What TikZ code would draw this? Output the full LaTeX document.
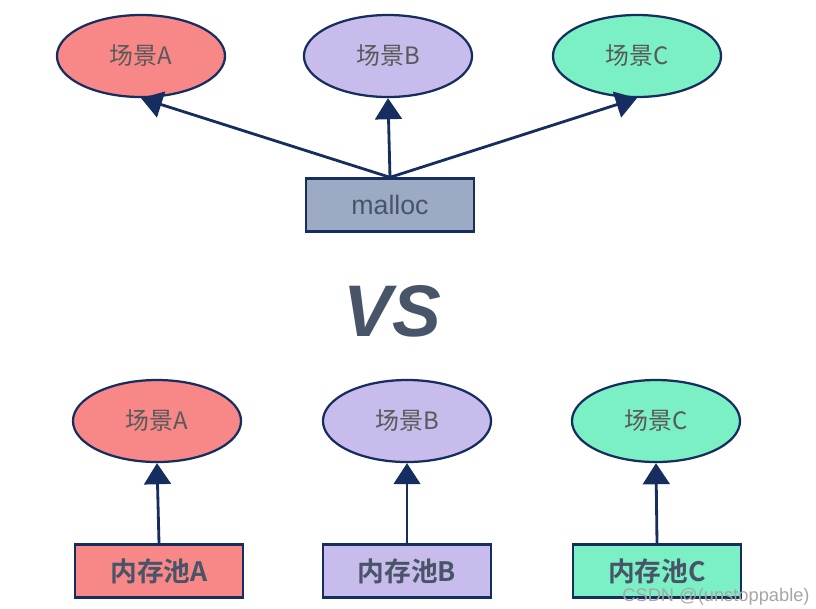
\documentclass[tikz,border=0pt]{standalone}
\usepackage{fontspec}
\setmainfont{Liberation Sans}
\newfontfamily\cjk{Noto Sans CJK SC}[BoldFont={Noto Sans CJK SC Bold}]
\usepackage{tikz}
\usetikzlibrary{arrows.meta,shapes.geometric}
\usepackage{xcolor}
\definecolor{navy}{RGB}{22,45,95}
\definecolor{pinkA}{RGB}{248,135,135}
\definecolor{lilacB}{RGB}{200,188,236}
\definecolor{mintC}{RGB}{122,240,196}
\definecolor{slatebox}{RGB}{156,170,196}
\definecolor{slatetext}{RGB}{72,84,104}

\begin{document}
\begin{tikzpicture}[x=0.025cm, y=-0.025cm,
    scene/.style={draw=navy, line width=1.6pt, ellipse, minimum width=4.2cm, minimum height=2.05cm, font=\cjk\fontsize{17}{17}\selectfont, text=black!65},
    pool/.style={draw=navy, line width=1.8pt, rectangle, minimum width=4.2cm, minimum height=1.32cm, font=\cjk\bfseries\fontsize{19}{19}\selectfont, text=slatetext},
    link/.style={draw=navy, line width=2pt, -{Triangle[width=19pt,length=15pt]}}]
\useasboundingbox (0,0) rectangle (816,608);

% Scenes (top)
\node[scene, fill=pinkA] (sa1) at (141,56) {场景A};
\node[scene, fill=lilacB] (sb1) at (388,56) {场景B};
\node[scene, fill=mintC] (sc1) at (637,56) {场景C};

% malloc
\node[pool, fill=slatebox, font=\fontsize{19}{19}\selectfont] (malloc) at (390,205) {malloc};

% Arrows (top)
\draw[link] (malloc.north) -- (sa1.south);
\draw[link] (malloc.north) -- (sb1.south);
\draw[link] (malloc.north) -- (sc1.south);

% VS
\node[font=\bfseries\itshape\fontsize{52}{52}\selectfont, text=slatetext] (vs) at (392,311) {VS};

% Scenes (bottom)
\node[scene, fill=pinkA] (sa2) at (157,421) {场景A};
\node[scene, fill=lilacB] (sb2) at (407,421) {场景B};
\node[scene, fill=mintC] (sc2) at (656,421) {场景C};

% Memory pools
\node[pool, fill=pinkA] (poolA) at (159,571) {内存池A};
\node[pool, fill=lilacB] (poolB) at (407,571) {内存池B};
\node[pool, fill=mintC] (poolC) at (657,571) {内存池C};

% Arrows (bottom)
\draw[link] (poolA.north) -- (sa2.south);
\draw[link] (poolB.north) -- (sb2.south);
\draw[link] (poolC.north) -- (sc2.south);

% Watermark
\node[text=gray!70, font=\fontsize{13}{13}\selectfont] (mark) at (716,597) {CSDN @(unstoppable)};
\end{tikzpicture}
\end{document}
